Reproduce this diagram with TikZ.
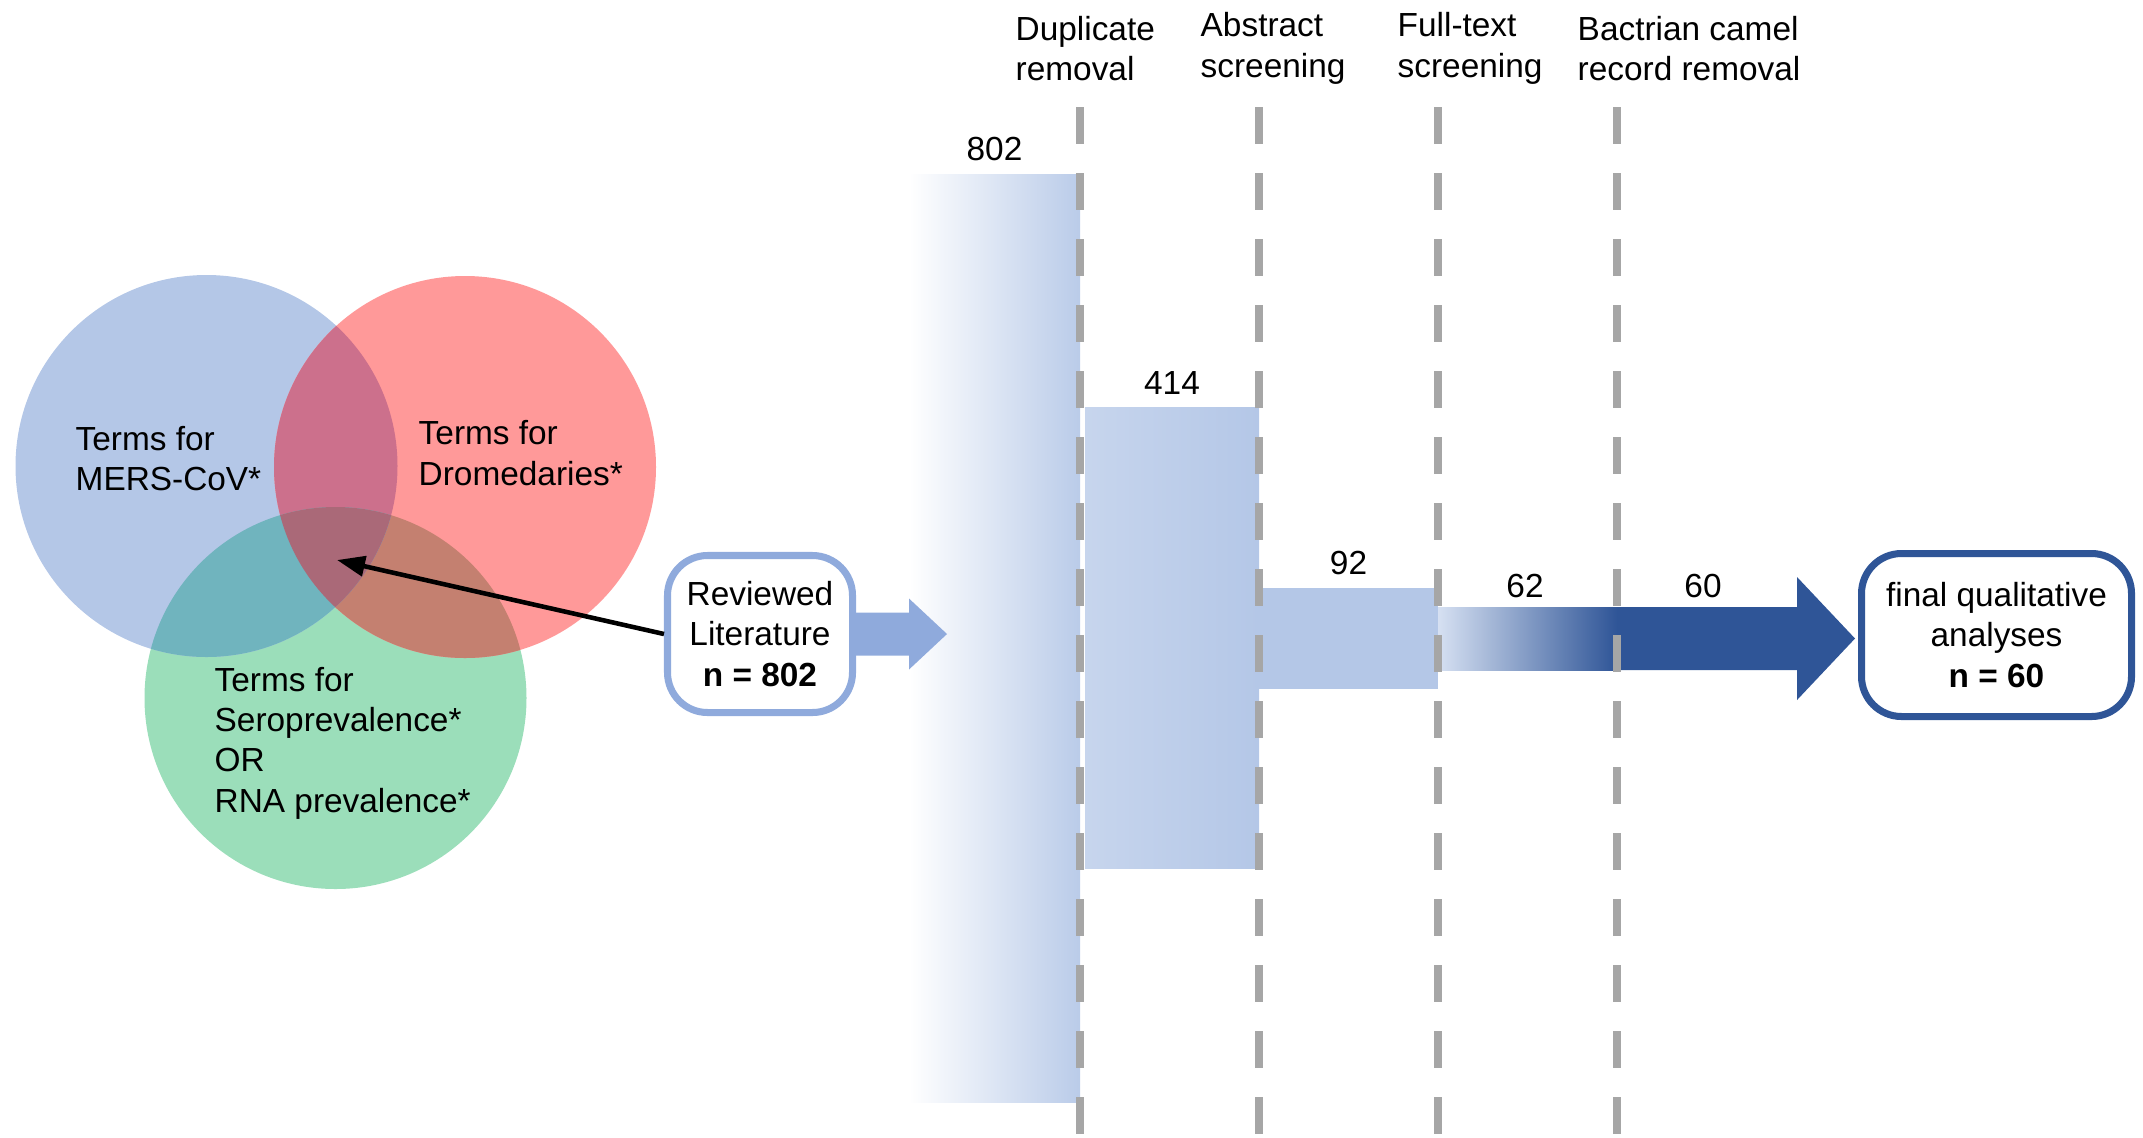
\documentclass[tikz,border=0pt]{standalone}
\usepackage{fontspec}
\setmainfont{Liberation Sans}
\usetikzlibrary{positioning,arrows.meta,calc}
\definecolor{vblue}{RGB}{180,199,231}
\definecolor{vred}{RGB}{255,153,153}
\definecolor{vgreen}{RGB}{155,222,186}
\definecolor{vbluered}{RGB}{204,112,140}
\definecolor{vbluegreen}{RGB}{112,180,190}
\definecolor{vredgreen}{RGB}{196,128,112}
\definecolor{vall}{RGB}{170,105,120}
\definecolor{revblue}{RGB}{143,170,220}
\definecolor{barblue}{RGB}{180,199,231}
\definecolor{darkblue}{RGB}{47,85,151}
\definecolor{sepgrey}{RGB}{166,166,166}
\tikzset{
  lbl/.style={font=\fontsize{9.5}{11.5}\selectfont,inner sep=0pt},
  vtext/.style={lbl,align=left,anchor=west},
  countbox/.style={lbl,draw,fill=white,line width=2pt,rounded corners=0.4cm,align=center},
  flowbar/.style={anchor=north west,inner sep=0pt,outer sep=0pt},
  stagesep/.style={draw=sepgrey,line width=0.075cm,dash pattern=on 0.37cm off 0.29cm},
}
\begin{document}
\begin{tikzpicture}[node distance=0.12cm]
\useasboundingbox (0,0) rectangle (21.43,-11.37);

% venn diagram
\def\vr{1.91}
\coordinate (cmers) at (2.065,-4.66);
\coordinate (cdrom) at (4.65,-4.67);
\coordinate (cprev) at (3.355,-6.98);
\fill[vgreen] (cprev) circle (\vr);
\fill[vblue] (cmers) circle (\vr);
\fill[vred] (cdrom) circle (\vr);
\begin{scope}
  \clip (cdrom) circle (\vr);
  \fill[vredgreen] (cprev) circle (\vr);
\end{scope}
\begin{scope}
  \clip (cmers) circle (\vr);
  \fill[vbluered] (cdrom) circle (\vr);
  \fill[vbluegreen] (cprev) circle (\vr);
  \clip (cdrom) circle (\vr);
  \fill[vall] (cprev) circle (\vr);
\end{scope}
\coordinate (vcore) at (3.37,-5.60);

\node[vtext] (tmers) at (0.75,-4.585) {Terms for\\MERS-CoV*};
\node[vtext] (tdrom) at (4.18,-4.53) {Terms for\\Dromedaries*};
\node[vtext] (tprev) at (2.14,-7.43) {Terms for\\Seroprevalence*\\OR\\RNA prevalence*};

% flow bars
\node[flowbar,left color=white,right color=barblue!92!white,minimum width=1.71cm,minimum height=9.28cm] (b802) at (9.09,-1.74) {};
\node[flowbar,left color=barblue!75!white,right color=barblue,minimum width=1.74cm,minimum height=4.61cm] (b414) at (10.85,-4.07) {};
\node[flowbar,fill=barblue,minimum width=1.79cm,minimum height=1.01cm] (b92) at (12.59,-5.88) {};

\node[lbl,above=of b802] (n802) {802};
\node[lbl,above=of b414] (n414) {414};
\node[lbl,above=of b92] (n92) {92};

% outgoing arrow
\coordinate (outtip) at (18.55,-6.385);
\fill[darkblue] (16.10,-6.07) -- (17.97,-6.07) -- (17.97,-5.77) -- (outtip)
  -- (17.97,-7.00) -- (17.97,-6.70) -- (16.10,-6.70) -- cycle;
\shade[left color=barblue!55!white,right color=darkblue] (14.38,-6.07) rectangle (16.17,-6.70);
\node[lbl] (n62) at (15.25,-5.86) {62};
\node[lbl] (n60) at (17.03,-5.86) {60};

% stage separators
\foreach \x in {10.80,12.59,14.38,16.17}
  \draw[stagesep] (\x,-1.07) -- (\x,-11.37);

\node[lbl,align=left,anchor=west] (sdup) at (10.15,-0.485) {Duplicate\\removal};
\node[lbl,align=left,anchor=west] (sabs) at (12.00,-0.485) {Abstract\\screening};
\node[lbl,align=left,anchor=west] (sfull) at (13.97,-0.485) {Full-text\\screening};
\node[lbl,align=left,anchor=west] (sbact) at (15.77,-0.485) {Bactrian camel\\record removal};

% boxes
\node[countbox,draw=revblue,minimum width=1.85cm,minimum height=1.57cm] (rev) at (7.60,-6.34) {Reviewed\\Literature\\\textbf{n = 802}};
\node[countbox,draw=darkblue,minimum width=2.70cm,minimum height=1.63cm] (final) at (19.965,-6.35) {final qualitative\\analyses\\\textbf{n = 60}};

\coordinate (revtip) at (9.47,-6.34);
\fill[revblue] ($(rev.east)+(0,0.215)$) -- (9.09,-6.125) -- (9.09,-5.985) -- (revtip)
  -- (9.09,-6.695) -- (9.09,-6.555) -- ($(rev.east)+(0,-0.215)$) -- cycle;

\draw[-{Triangle[length=0.28cm,width=0.2cm]},line width=1.3pt] (rev.west) -- (vcore);

\end{tikzpicture}
\end{document}
